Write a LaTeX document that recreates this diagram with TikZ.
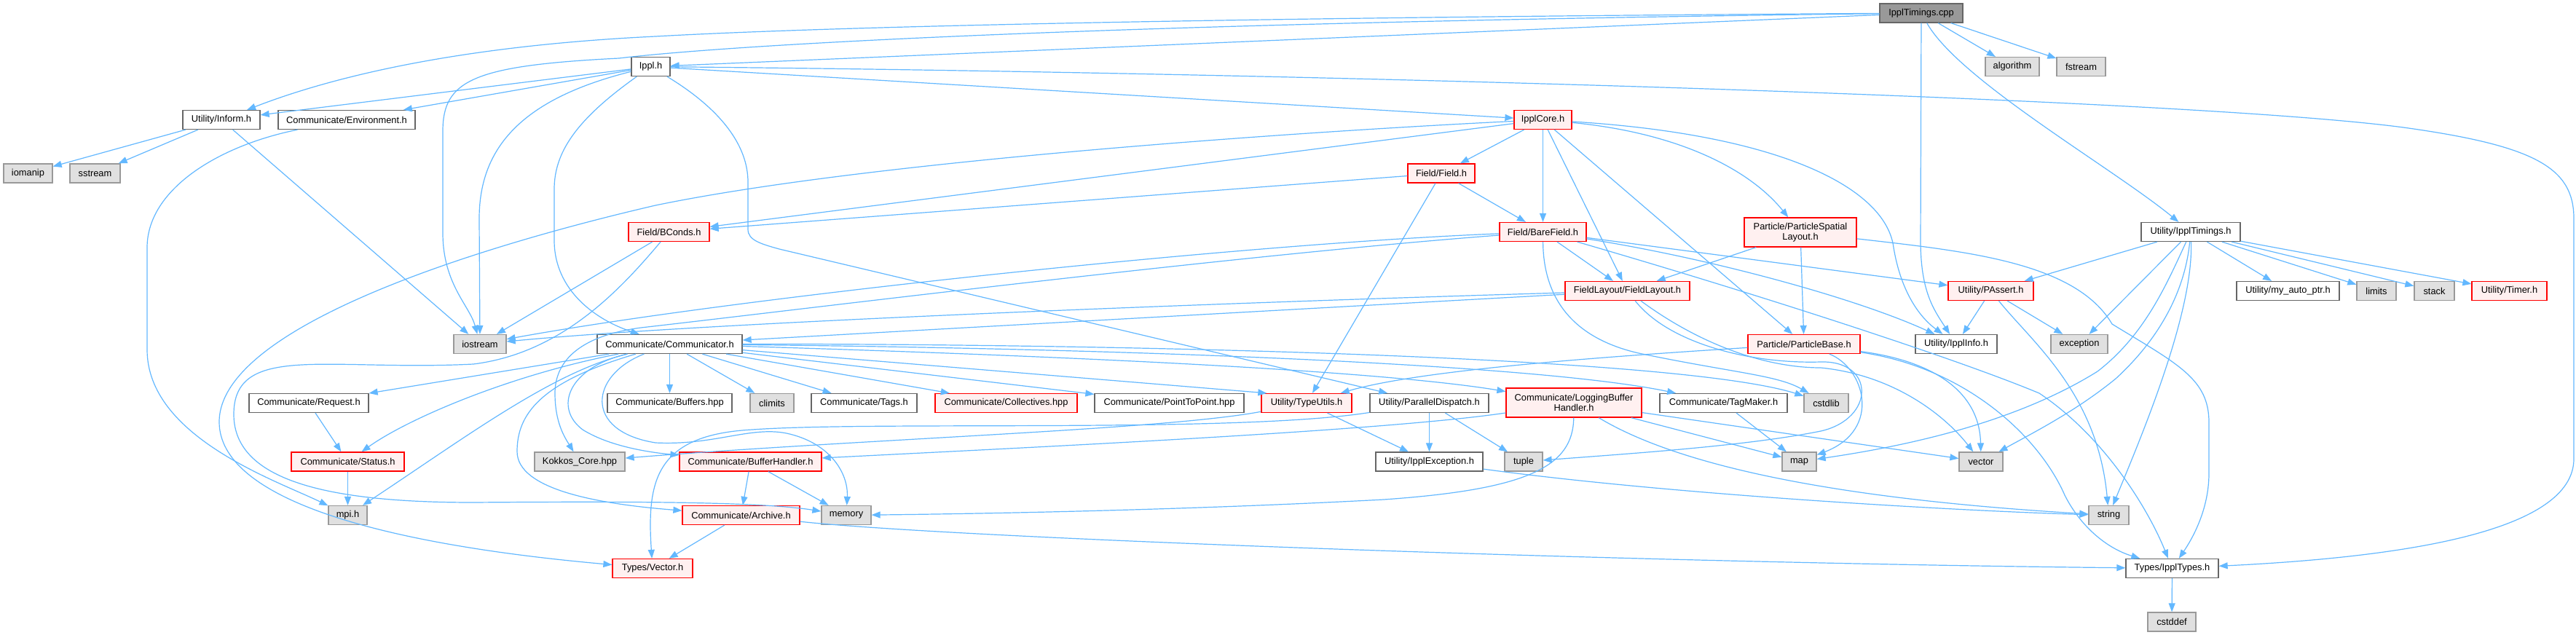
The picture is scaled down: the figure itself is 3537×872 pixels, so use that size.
\documentclass[tikz,border=0pt]{standalone}
\usepackage{fontspec}
\newfontfamily\dfont{Liberation Sans}
\usetikzlibrary{arrows.meta}
\definecolor{edgec}{HTML}{63B8FF}
\definecolor{plainb}{HTML}{666666}
\definecolor{sysb}{HTML}{999999}
\definecolor{sysf}{HTML}{E0E0E0}
\definecolor{truncb}{HTML}{FF0000}
\definecolor{truncf}{HTML}{FFF0F0}
\definecolor{rootf}{HTML}{999999}
\newcommand\dnode[6]{\node[#1,minimum width=#2pt,minimum height=#3pt] (#4) at #5 {#6};}
\begin{document}
\begin{tikzpicture}[x=1pt,y=-1pt,
  nb/.style={draw,line width=1.25pt,inner sep=0pt,align=center,text=black,
    font=\dfont\fontsize{12.85}{14.5}\selectfont},
  hdr/.style={nb,draw=plainb,fill=white},
  syshdr/.style={nb,draw=sysb,fill=sysf},
  trunc/.style={nb,draw=truncb,fill=truncf},
  rootn/.style={nb,draw=plainb,fill=rootf},
  e/.style={draw=edgec,line width=1.2pt,-{Triangle[length=12pt,width=9pt]}}]
\useasboundingbox (0,0) rectangle (3537,872);
\fill[white] (0,0) rectangle (3537,872);
% row 1
\dnode{rootn}{114}{26}{root}{(2638,18)}{IpplTimings.cpp}
% row 2
\dnode{hdr}{53}{26}{ippl}{(893.5,91.5)}{Ippl.h}
\dnode{syshdr}{74}{26}{algorithm}{(2763,91.5)}{algorithm}
\dnode{syshdr}{67}{26}{fstream}{(2857.5,91.5)}{fstream}
% row 3
\dnode{hdr}{106}{26}{inform}{(304,164.5)}{Utility/Inform.h}
\dnode{hdr}{188}{26}{env}{(476,164.5)}{Communicate/Environment.h}
\dnode{trunc}{79}{26}{core}{(2118.5,164.5)}{IpplCore.h}
% row 4
\dnode{syshdr}{67}{26}{iomanip}{(38.5,238)}{iomanip}
\dnode{syshdr}{69}{26}{sstream}{(130.5,238)}{sstream}
\dnode{trunc}{92}{26}{field}{(1979,238)}{Field/Field.h}
% row 5
\dnode{trunc}{111}{26}{bconds}{(918.5,318.5)}{Field/BConds.h}
\dnode{trunc}{119}{26}{bare}{(2118.5,318.5)}{Field/BareField.h}
\dnode{trunc}{154}{40}{psl}{(2472,319)}{Particle/ParticleSpatial\\Layout.h}
\dnode{hdr}{136}{26}{timingsh}{(3008,318.5)}{Utility/IpplTimings.h}
% row 6
\dnode{trunc}{171}{26}{fl}{(2234.5,399.5)}{FieldLayout/FieldLayout.h}
\dnode{trunc}{117}{26}{passert}{(2733.5,399.5)}{Utility/PAssert.h}
\dnode{hdr}{141}{26}{autoptr}{(3141.5,399.5)}{Utility/my\_auto\_ptr.h}
\dnode{syshdr}{54}{26}{limits}{(3263,399.5)}{limits}
\dnode{syshdr}{55}{26}{stack}{(3342.5,399.5)}{stack}
\dnode{trunc}{103}{26}{timer}{(3445.5,399.5)}{Utility/Timer.h}
% row 7
\dnode{syshdr}{72}{26}{iostream}{(659,472.5)}{iostream}
\dnode{hdr}{199}{26}{comm}{(919.5,472.5)}{Communicate/Communicator.h}
\dnode{trunc}{154}{26}{pbase}{(2477,472.5)}{Particle/ParticleBase.h}
\dnode{hdr}{112}{26}{info}{(2686,472.5)}{Utility/IpplInfo.h}
\dnode{syshdr}{78}{26}{exception}{(2855,472.5)}{exception}
% row 8
\dnode{hdr}{164}{26}{request}{(424,553.5)}{Communicate/Request.h}
\dnode{hdr}{171}{26}{buffers}{(919.5,553.5)}{Communicate/Buffers.hpp}
\dnode{syshdr}{60}{26}{climits}{(1060,553.5)}{climits}
\dnode{hdr}{145}{26}{tags}{(1186.5,553.5)}{Communicate/Tags.h}
\dnode{trunc}{195}{26}{coll}{(1381.5,553.5)}{Communicate/Collectives.hpp}
\dnode{hdr}{205}{26}{p2p}{(1605.5,553.5)}{Communicate/PointToPoint.hpp}
\dnode{trunc}{124}{26}{typeutils}{(1794,553.5)}{Utility/TypeUtils.h}
\dnode{hdr}{163}{26}{pdispatch}{(1962.5,553.5)}{Utility/ParallelDispatch.h}
\dnode{trunc}{186}{40}{lbh}{(2161,553)}{Communicate/LoggingBuffer\\Handler.h}
\dnode{hdr}{175}{26}{tagmaker}{(2366.5,553.5)}{Communicate/TagMaker.h}
\dnode{syshdr}{61}{26}{cstdlib}{(2507.5,553.5)}{cstdlib}
% row 9
\dnode{trunc}{155}{26}{status}{(477.5,634)}{Communicate/Status.h}
\dnode{syshdr}{124}{26}{kokkos}{(796,634)}{Kokkos\_Core.hpp}
\dnode{trunc}{195}{26}{bufh}{(1030.5,634)}{Communicate/BufferHandler.h}
\dnode{hdr}{147}{26}{ipplexc}{(1962.5,634)}{Utility/IpplException.h}
\dnode{syshdr}{52}{26}{tuple}{(2092,634)}{tuple}
\dnode{syshdr}{47}{26}{map}{(2470.5,634)}{map}
\dnode{syshdr}{60}{26}{vector}{(2720,634)}{vector}
% row 10
\dnode{syshdr}{53}{26}{mpi}{(477.5,707.5)}{mpi.h}
\dnode{trunc}{161}{26}{archive}{(1017.5,707.5)}{Communicate/Archive.h}
\dnode{syshdr}{68}{26}{memory}{(1162,707.5)}{memory}
\dnode{syshdr}{55}{26}{string}{(2895.5,707.5)}{string}
% row 11
\dnode{trunc}{110}{26}{vec}{(896,780.5)}{Types/Vector.h}
\dnode{hdr}{127}{26}{types}{(2982.5,780.5)}{Types/IpplTypes.h}
% row 12
\dnode{syshdr}{66}{26}{cstddef}{(2982,854)}{cstddef}

% ---- edges from IpplTimings.cpp
\draw[e] (root) -- (ippl);
\draw[e] (root) .. controls (1700,24) and (1150,36) .. (900,50) .. controls (650,62) and (470,100) .. (inform);
\draw[e] (root) .. controls (1500,32) and (1000,62) .. (850,80) .. controls (650,90) and (608,110) .. (608,180) -- (608,320) .. controls (608,390) and (645,420) .. (iostream);
\draw[e] (root) -- (2637,330) .. controls (2637,400) and (2655,425) .. (info);
\draw[e] (root) -- (algorithm);
\draw[e] (root) -- (fstream);
\draw[e] (root) .. controls (2690,110) and (2900,230) .. (timingsh);
% ---- Ippl.h
\draw[e] (ippl) -- (inform);
\draw[e] (ippl) -- (env);
\draw[e] (ippl) .. controls (720,135) and (658,200) .. (658,300) -- (iostream);
\draw[e] (ippl) .. controls (790,165) and (761,210) .. (761,260) -- (761,330) .. controls (761,400) and (820,440) .. (comm);
\draw[e] (ippl) -- (core);
\draw[e] (ippl) .. controls (1800,100) and (3000,135) .. (3300,175) .. controls (3480,200) and (3534,230) .. (3534,300) -- (3534,630) .. controls (3534,730) and (3300,765) .. (types);
\draw[e] (ippl) .. controls (990,150) and (1027,200) .. (1027,250) -- (1027,315) .. controls (1027,330) and (1045,335) .. (1070,342) -- (pdispatch);
% ---- Inform / Environment
\draw[e] (inform) -- (iomanip);
\draw[e] (inform) -- (sstream);
\draw[e] (inform) -- (iostream);
\draw[e] (env) .. controls (300,200) and (202,260) .. (202,340) -- (202,480) .. controls (202,600) and (380,660) .. (mpi);
% ---- IpplCore.h
\draw[e] (core) .. controls (1800,180) and (1200,220) .. (900,282) .. controls (650,340) and (300,450) .. (301,580) .. controls (302,680) and (500,745) .. (vec);
\draw[e] (core) -- (bconds);
\draw[e] (core) -- (field);
\draw[e] (core) -- (bare);
\draw[e] (core) -- (fl);
\draw[e] (core) -- (pbase);
\draw[e] (core) .. controls (2300,182) and (2400,230) .. (psl);
\draw[e] (core) .. controls (2450,185) and (2590,260) .. (2600,340) .. controls (2610,400) and (2635,435) .. (info);
% ---- Field.h
\draw[e] (field) -- (bconds);
\draw[e] (field) -- (bare);
\draw[e] (field) -- (typeutils);
% ---- BConds.h
\draw[e] (bconds) -- (iostream);
\draw[e] (bconds) .. controls (850,400) and (770,485) .. (650,500) .. controls (450,510) and (320,470) .. (321,570) .. controls (322,660) and (450,690) .. (650,690) .. controls (900,688) and (1050,690) .. (memory);
% ---- BareField.h
\draw[e] (bare) -- (fl);
\draw[e] (bare) .. controls (1700,335) and (1000,410) .. (iostream);
\draw[e] (bare) .. controls (1700,350) and (1100,425) .. (880,450) .. controls (790,462) and (762,500) .. (762,540) .. controls (762,580) and (775,600) .. (kokkos);
\draw[e] (bare) -- (passert);
\draw[e] (bare) .. controls (2350,355) and (2550,410) .. (info);
\draw[e] (bare) .. controls (2400,400) and (2680,490) .. (2800,540) .. controls (2890,600) and (2950,700) .. (types);
\draw[e] (bare) .. controls (2119,400) and (2150,462) .. (2250,485) .. controls (2380,512) and (2440,515) .. (cstdlib);
% ---- ParticleSpatialLayout.h
\draw[e] (psl) -- (fl);
\draw[e] (psl) -- (pbase);
\draw[e] (psl) .. controls (2700,345) and (2850,360) .. (2900,445) .. controls (2990,500) and (3033,520) .. (3033,580) -- (3033,650) .. controls (3033,700) and (3010,740) .. (types);
% ---- FieldLayout.h
\draw[e] (fl) .. controls (1800,412) and (1000,440) .. (iostream);
\draw[e] (fl) -- (comm);
\draw[e] (fl) .. controls (2290,470) and (2400,500) .. (2500,497) .. controls (2575,495) and (2575,575) .. (2500,592) .. controls (2400,612) and (2250,622) .. (tuple);
\draw[e] (fl) .. controls (2330,470) and (2420,505) .. (2500,505) .. controls (2600,515) and (2670,570) .. (vector);
% ---- IpplTimings.h
\draw[e] (timingsh) -- (passert);
\draw[e] (timingsh) -- (autoptr);
\draw[e] (timingsh) -- (limits);
\draw[e] (timingsh) -- (stack);
\draw[e] (timingsh) -- (timer);
\draw[e] (timingsh) .. controls (2975,390) and (2945,460) .. (2880,510) .. controls (2760,585) and (2600,615) .. (map);
\draw[e] (timingsh) -- (exception);
\draw[e] (timingsh) .. controls (3000,400) and (2965,465) .. (2905,520) .. controls (2850,565) and (2790,595) .. (vector);
\draw[e] (timingsh) .. controls (3012,430) and (2940,600) .. (string);
% ---- PAssert.h
\draw[e] (passert) -- (info);
\draw[e] (passert) .. controls (2790,470) and (2880,540) .. (string);
\draw[e] (passert) -- (exception);
% ---- Communicator.h
\draw[e] (comm) -- (request);
\draw[e] (comm) .. controls (700,515) and (560,575) .. (status);
\draw[e] (comm) .. controls (760,510) and (640,600) .. (mpi);
\draw[e] (comm) -- (buffers);
\draw[e] (comm) -- (climits);
\draw[e] (comm) -- (tags);
\draw[e] (comm) -- (coll);
\draw[e] (comm) -- (p2p);
\draw[e] (comm) -- (typeutils.166);
\draw[e] (comm) .. controls (1500,490) and (1900,510) .. (lbh);
\draw[e] (comm) .. controls (1500,478) and (2100,498) .. (tagmaker);
\draw[e] (comm) .. controls (1500,472) and (2300,488) .. (cstdlib);
\draw[e] (comm) .. controls (780,505) and (760,560) .. (800,590) .. controls (840,615) and (900,622) .. (bufh);
\draw[e] (comm) .. controls (740,525) and (710,570) .. (710,620) .. controls (710,672) and (820,692) .. (archive);
\draw[e] (comm) .. controls (810,515) and (800,592) .. (900,608) .. controls (980,612) and (1030,585) .. (1080,595) .. controls (1140,608) and (1165,650) .. (memory);
% ---- Request / Status / BufferHandler / Archive
\draw[e] (request) -- (status);
\draw[e] (status) -- (mpi);
\draw[e] (bufh) -- (archive);
\draw[e] (bufh) -- (memory);
\draw[e] (archive) -- (vec);
\draw[e] (archive) .. controls (1300,738) and (2200,772) .. (types);
% ---- TypeUtils / ParallelDispatch
\draw[e] (typeutils) -- (ipplexc);
\draw[e] (typeutils) .. controls (1600,590) and (1200,602) .. (kokkos);
\draw[e] (pdispatch) -- (ipplexc);
\draw[e] (pdispatch) -- (tuple);
\draw[e] (pdispatch) .. controls (1700,595) and (1200,578) .. (1033,590) .. controls (900,597) and (888,660) .. (vec);
% ---- LoggingBufferHandler.h
\draw[e] (lbh) .. controls (1900,592) and (1400,615) .. (bufh);
\draw[e] (lbh) .. controls (2160,640) and (2100,672) .. (1900,686) .. controls (1600,702) and (1300,706) .. (memory);
\draw[e] (lbh) -- (map);
\draw[e] (lbh) -- (vector);
\draw[e] (lbh) .. controls (2330,655) and (2600,690) .. (string);
% ---- IpplException / TagMaker
\draw[e] (ipplexc) .. controls (2300,680) and (2700,702) .. (string);
\draw[e] (tagmaker) -- (map);
% ---- ParticleBase.h
\draw[e] (pbase) .. controls (2200,490) and (1950,508) .. (typeutils);
\draw[e] (pbase) .. controls (2560,505) and (2585,590) .. (map);
\draw[e] (pbase) .. controls (2650,495) and (2718,535) .. (vector);
\draw[e] (pbase) .. controls (2700,505) and (2800,600) .. (2835,680) .. controls (2855,720) and (2890,752) .. (types);
% ---- IpplTypes.h
\draw[e] (types) -- (cstddef);
\end{tikzpicture}
\end{document}
